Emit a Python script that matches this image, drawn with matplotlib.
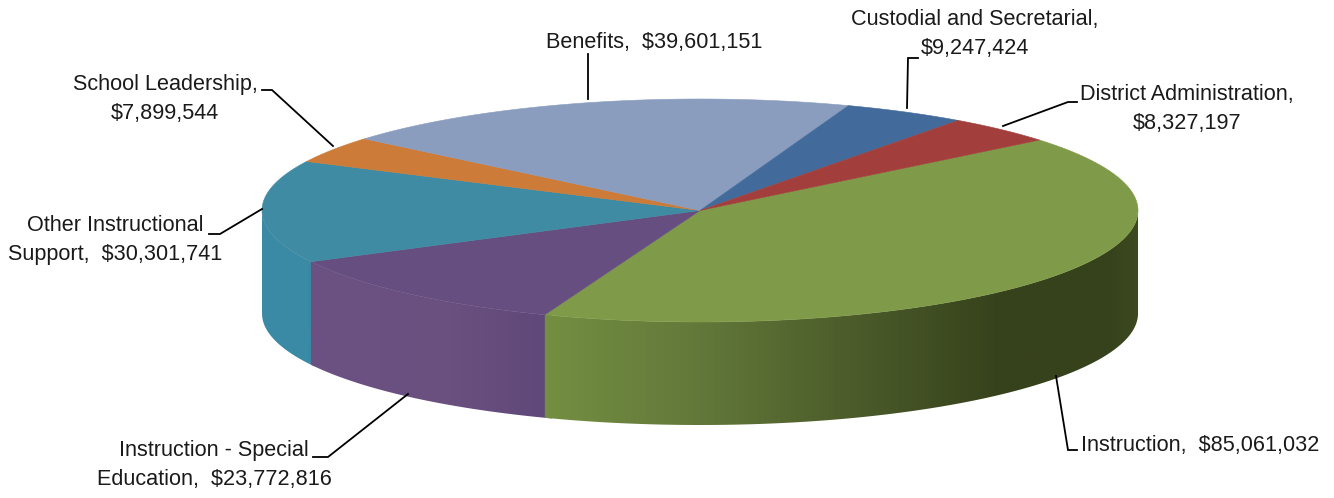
# budget pie drawn by hand as a tilted disc, axes run in pixel units
import numpy as np
import matplotlib
matplotlib.use("Agg")
import matplotlib.pyplot as plt
from matplotlib.colors import to_rgb
from matplotlib.patches import Polygon

# slices go clockwise, starting at the Instruction wedge
categories = ["Instruction", "Instruction - Special Education", "Other Instructional Support",
              "School Leadership", "Benefits", "Custodial and Secretarial", "District Administration"]
amounts = [85061032, 23772816, 30301741, 7899544, 39601151, 9247424, 8327197]

plt.rcParams['font.family'] = ['Liberation Sans', 'DejaVu Sans']

top_colors = ["#7f9a48", "#664f80", "#3f8ba3", "#cc7b38", "#8a9dbf", "#426b9c", "#a23f3c"]

CX, CY, RX, RY, DEPTH = 700, 210.5, 438, 111.5, 103
START = 39.2

fig = plt.figure(figsize=(13.34, 4.98), dpi=100)
ax = fig.add_axes([0, 0, 1, 1])


def rim(deg, drop=0):
    a = np.radians(deg)
    return CX + RX * np.cos(a), CY - RY * np.sin(a) + drop


def wall(a_from, a_to, xs, cols):
    # outer wall: a horizontal gradient clipped to the curved band
    angs = np.linspace(a_from, a_to, 200)
    upper = [rim(a) for a in angs]
    lower = [rim(a, DEPTH) for a in angs[::-1]]
    band = Polygon(upper + lower, closed=True, transform=ax.transData, facecolor="none", edgecolor="none")
    ax.add_patch(band)
    x_lo = min(p[0] for p in upper)
    x_hi = max(p[0] for p in upper)
    px = np.arange(np.floor(x_lo), np.ceil(x_hi) + 1)
    rgb = np.array([to_rgb(c) for c in cols])
    grad = np.stack([np.interp(px, xs, rgb[:, i]) for i in range(3)], axis=-1)[np.newaxis, :, :]
    im = ax.imshow(grad, extent=(px[0], px[-1], 440, 190), aspect="auto", interpolation="bilinear")
    im.set_clip_path(band)


fractions = np.array(amounts) / sum(amounts)
edges = START - np.concatenate([[0], np.cumsum(fractions)]) * 360

# back to front so each wall tucks under its right-hand neighbour
wall(edges[2] + 1, -180, [262, 310], ["#3c8ba6", "#3b8aa5"])
wall(edges[1] + 1, edges[2], [310, 450, 543], ["#6c5283", "#69507f", "#60487a"])
wall(0, edges[1], [543, 700, 850, 1000, 1110, 1139],
     ["#748f41", "#62783a", "#4c5c2a", "#36421c", "#36421c", "#3d4a20"])

# top face
for i, col in enumerate(top_colors):
    angs = np.linspace(edges[i], edges[i + 1], 120)
    pts = [(CX, CY)] + [rim(a) for a in angs]
    ax.add_patch(Polygon(pts, closed=True, facecolor=col, edgecolor=col, linewidth=0.4))

# callouts
money = ["${:,}".format(v) for v in amounts]
labels = [
    ("Instruction,  " + money[0], 1200, 445, [(1056, 376), (1068, 450), (1077, 450)]),
    ("Instruction - Special\nEducation,  " + money[1], 214, 465, [(408, 394), (328, 457), (313, 457)]),
    ("Other Instructional\nSupport,  " + money[2], 115, 240, [(262, 209), (220, 234), (209, 234)]),
    ("School Leadership,\n" + money[3], 165, 99, [(333, 146), (272, 90), (262, 90)]),
    ("Benefits,  " + money[4], 654, 42, [(588, 99), (588, 54)]),
    ("Custodial and Secretarial,\n" + money[5], 975, 34, [(907, 108), (908, 58), (918, 58)]),
    ("District Administration,\n" + money[6], 1187, 109, [(1003, 126), (1068, 102), (1077, 102)]),
]
for text, x, y, line in labels:
    ax.text(x, y, text, ha="center", va="center", fontsize=15.6, color="#1a1a1a", linespacing=1.55)
    ax.plot(*zip(*line), color="black", lw=1.3, solid_joinstyle="miter")

ax.set_xlim(0, 1334)
ax.set_ylim(498, 0)
ax.axis("off")

fig.savefig("out.png", dpi=100)
